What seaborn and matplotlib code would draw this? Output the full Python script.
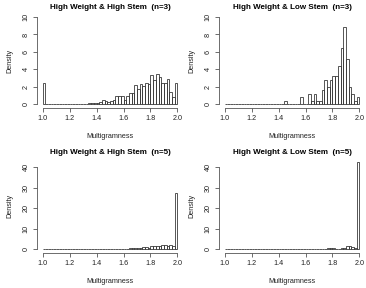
import numpy as np
import pandas as pd
import matplotlib
matplotlib.use("Agg")
import matplotlib.pyplot as plt
import seaborn as sns

# ---- data: density per 0.02-wide bin from 1.00 to 2.00 ----
bin_edges = [round(1.0 + 0.02 * i, 2) for i in range(51)]

hh3 = [2.4, 0, 0.05, 0.05, 0, 0, 0.05, 0, 0, 0.05,
       0, 0, 0, 0, 0, 0, 0, 0.1, 0.2, 0.2,
       0.15, 0.3, 0.55, 0.4, 0.3, 0.4, 0.5, 0.9, 0.9, 0.9,
       0.5, 1.0, 1.25, 1.25, 2.2, 1.7, 2.3, 2.1, 2.4, 2.3,
       3.4, 2.8, 3.5, 3.1, 2.4, 2.4, 2.9, 1.4, 0.8, 2.4]

hl3 = [0, 0, 0, 0, 0, 0, 0, 0, 0, 0,
       0, 0, 0, 0, 0, 0, 0, 0, 0, 0,
       0, 0, 0.4, 0, 0, 0, 0, 0, 0.8, 0,
       0, 1.2, 0.4, 1.2, 0.4, 0.4, 1.6, 2.8, 2.0, 2.8,
       3.2, 3.2, 4.4, 6.4, 8.8, 5.2, 2.0, 1.2, 0.4, 0.8]

hh5 = [0.02, 0.02, 0.02, 0.02, 0.02, 0.02, 0.02, 0.02, 0.02, 0.02,
       0.02, 0.02, 0.02, 0.02, 0.02, 0.02, 0.02, 0.02, 0.02, 0.05,
       0.08, 0.08, 0.1, 0.1, 0.1, 0.15, 0.2, 0.3, 0.3, 0.25,
       0.3, 0.35, 0.4, 0.4, 0.5, 0.5, 0.6, 1.2, 1.2, 0.8,
       1.7, 1.7, 1.7, 1.6, 2.2, 2.1, 1.8, 1.9, 1.8, 27.5]

hl5 = [0, 0, 0, 0, 0, 0, 0, 0, 0, 0,
       0, 0, 0, 0, 0, 0, 0, 0, 0, 0,
       0, 0, 0, 0, 0, 0, 0, 0, 0, 0,
       0, 0, 0, 0, 0, 0, 0, 0, 0.8, 0.4,
       0.4, 0, 0, 0.4, 0.6, 1.4, 1.8, 1.0, 0.4, 42.5]

titles = ["High Weight & High Stem  (n=3)", "High Weight & Low Stem  (n=3)",
          "High Weight & High Stem  (n=5)", "High Weight & Low Stem  (n=5)"]
series = [hh3, hl3, hh5, hl5]
y_max = [10, 10, 42.6, 42.6]
y_ticks = [[0, 2, 4, 6, 8, 10], [0, 2, 4, 6, 8, 10],
           [0, 10, 20, 30, 40], [0, 10, 20, 30, 40]]
x_ticks = [1.0, 1.2, 1.4, 1.6, 1.8, 2.0]

plt.rcParams["font.family"] = ["Liberation Sans", "DejaVu Sans"]

W, H = 366, 288
fig = plt.figure(figsize=(W / 100, H / 100), dpi=100)

# axes rectangles in pixels: (left, top, width, height)
rects = [(37.3, 13.5, 145.5, 94.3), (219.3, 13.5, 145.5, 94.3),
         (37.3, 158.5, 145.5, 94.3), (219.3, 158.5, 145.5, 94.3)]

centers = [round(e + 0.01, 3) for e in bin_edges[:-1]]
edge_col = "#3a3a3a"
axis_col = "#555555"
txt_col = "#222222"
fs = 5.2

for i in range(4):
    l, t, w, h = rects[i]
    ax = fig.add_axes([l / W, 1 - (t + h) / H, w / W, h / H])
    df = pd.DataFrame({"x": centers, "d": series[i]})
    sns.histplot(data=df, x="x", weights="d", bins=bin_edges, stat="count",
                 fill=False, element="bars", color=edge_col, linewidth=0.6,
                 ax=ax)
    ym = y_max[i]
    ax.set_xlim(0.96, 2.04)
    ax.set_ylim(-0.04 * ym, 1.04 * ym)
    for s in ["top", "right"]:
        ax.spines[s].set_visible(False)
    ax.spines["left"].set_bounds(0, y_ticks[i][-1])
    ax.spines["bottom"].set_bounds(1.0, 2.0)
    for s in ["left", "bottom"]:
        ax.spines[s].set_color(axis_col)
        ax.spines[s].set_linewidth(0.6)
    ax.set_xticks(x_ticks)
    ax.set_xticklabels([f"{v:.1f}" for v in x_ticks], fontsize=fs, color=txt_col)
    ax.set_yticks(y_ticks[i])
    ax.set_yticklabels([str(v) for v in y_ticks[i]], fontsize=fs, color=txt_col,
                       rotation=90, va="center")
    ax.tick_params(axis="both", length=3, width=0.6, color=axis_col, pad=2.5)
    ax.set_xlabel("Multigramness", fontsize=fs, color=txt_col, labelpad=7.5)
    ax.set_ylabel("Density", fontsize=fs, color=txt_col, labelpad=6.5)
    ax.set_title(titles[i], fontsize=5.8, fontweight="bold", pad=3.3)

fig.savefig("out.png", dpi=100)
